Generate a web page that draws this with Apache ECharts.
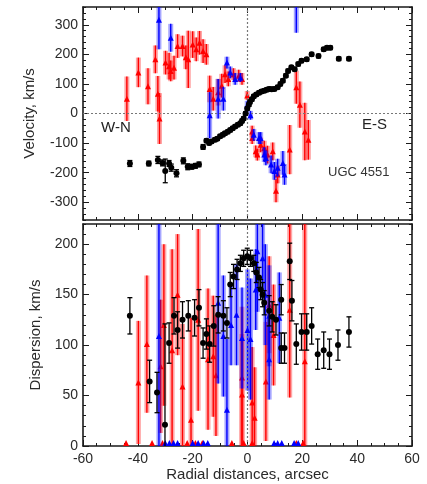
<!DOCTYPE html>
<html><head><meta charset="utf-8">
<script src="https://cdn.jsdelivr.net/npm/echarts@6/dist/echarts.min.js"></script>
<style>html,body{margin:0;padding:0;background:#fff}#c{width:427px;height:484px}</style>
</head><body><div id="c"></div>
<script>
// ---- tick labels ----
const X_TICKS = [-60, -40, -20, 0, 20, 40, 60];
const VEL_TICKS = [-300, -200, -100, 0, 100, 200, 300];
const DISP_TICKS = [0, 50, 100, 150, 200];

// ---- velocity panel: stars (black) ----
const velBlackX = [-42.9,-36,-32.7,-31,-30,-28.6,-27.8,-25.9,-23.4,-21.8,-20.3,-19,-17.7,-16.2,-15,-14,-13.1,-11.9,-11,-10,-9,-8.2,-7.2,-6.3,-5.4,-4.5,-3.5,-2.6,-2,-1.4,-0.7,-0.1,0.5,0.9,1.6,2.3,3.2,4.2,5.1,6.1,7,7.9,8.8,9.8,11,12,12.9,14,14.8,16,17.2,18.5,19.7,21.6,23.4,25.9,27.8,29,30.2,33.3,37];
const velBlackV = [-169,-169,-157,-167,-194,-169,-183,-202,-160,-180,-180,-177,-172,-113,-92,-100,-95,-89,-85,-77,-72,-67,-62,-56,-50,-44,-38,-33,-25,-17,0,17,30,39,48,58,64,70,74,77,80,83,82,83,89,100,111,128,144,156,150,167,178,183,200,194,217,222,222,185,185];
const velBlackErr = [10,8,12,10,40,10,12,12,10,10,8,8,8,8,6,6,6,6,6,6,6,6,6,6,6,6,6,6,6,6,6,6,6,6,6,6,6,6,6,6,6,6,6,6,6,6,6,6,6,6,6,6,6,6,6,6,6,6,6,6,6];

// ---- velocity panel: gas (red) ----
const velRedX = [-44,-39.8,-36.3,-33.6,-32.7,-32.1,-29.9,-28.6,-28,-26.8,-25.5,-23.7,-22.5,-21.6,-20,-18.7,-17.5,-16.2,-15,-13.8,-12.5,-10.7,-9.4,-8.2,-7,-5.1,-3.2,-2,-0.1,1.7,1.7,3,3.6,4.8,6.1,7.3,9.2,10.4,11,15.4,17.8,19.1,20.9,22.2];
const velRedV = [50,139,92,183,67,-17,172,160,144,155,228,228,190,183,233,217,239,211,200,83,50,72,94,133,117,133,128,117,61,-61,-83,-128,-139,-106,-117,-139,-128,-261,-206,-122,89,30,-61,-89];
const velRedErr = [75,50,61,47,60,86,40,45,35,40,40,35,40,97,45,40,40,40,35,45,40,45,40,30,25,20,20,20,15,20,20,20,20,25,25,30,30,39,30,83,56,78,97,67];

// ---- velocity panel: gas (blue) ----
const velBlueX = [-32.3,-28,-13.8,-10.7,-8.8,-7.5,-6.3,-4.5,-2.6,-0.1,1.1,2.3,4.2,4.8,6.1,6.7,8.6,9.8,11,12.9,13.5,17.8];
const velBlueV = [317,256,-6,50,50,172,139,117,122,28,-6,-72,-83,-83,-139,-150,-172,-194,-183,-167,-206,420];
const velBlueErr = [100,47,78,67,40,20,20,20,15,15,15,20,20,20,25,25,30,30,30,40,35,147];

// ---- dispersion panel: black ----
const dispBlackX = [-42.9,-35.7,-33,-30.1,-28.6,-26.8,-25.5,-23.7,-21.6,-19.3,-17.7,-16.2,-15,-13.8,-12.3,-10.7,-8.8,-7.5,-6.3,-5.1,-3.8,-2.6,-1.4,-0.1,1.1,2.3,3.2,4.2,4.8,5.5,6.1,7.9,9,10.4,12.3,12.3,13.5,15.4,16.2,17.8,19.7,21.6,23.4,25.6,27.8,29.9,33,37];
const dispBlackV = [129,64,53,21,102,129,115,125,129,127,137,102,111,101,119,130,129,122,160,168,175,181,186,188,186,181,172,167,155,150,142,134,128,125,145,97,97,183,144,101,113,113,119,91,95,91,100,113];
const dispBlackErr = [18,21,20,100,20,18,18,18,15,18,18,15,15,18,20,18,15,15,12,12,10,8,8,8,8,8,10,10,10,12,12,15,15,15,15,15,15,18,20,20,18,18,18,15,18,15,15,15];

// ---- dispersion panel: red ----
const dispRedX = [-44.3,-39.8,-36.7,-34.8,-31.7,-31,-30.5,-27.5,-25.5,-23.7,-22,-20.6,-19,-18,-16.5,-14.4,-12.5,-11.5,-5.7,-2,-2,-1.4,1.7,1.7,2.6,6.7,7.9,9.5,15.4,17.8,20.3,20.9];
const dispRedV = [3,63,101,3,79,3,120,95,150,59,3,26,3,125,3,86,89,70,3,68,51,3,3,43,28,64,140,110,135,3,3,84];
const dispRedErr = [0,61,68,0,66,0,80,100,60,62,0,101,0,90,0,70,60,60,0,70,60,0,0,55,50,59,48,50,87,0,0,140];

// ---- dispersion panel: blue ----
const dispBlueX = [-32.3,-30,-28.5,-27,-25.5,-20,-18,-16,-14.5,-10.7,-8.8,-7.5,-6,-4,-2,0,1.1,3,3.6,5.5,6.5,7.9,7.9,9.7,11,11.6,12.5,17,18.5];
const dispBlueV = [109,3,3,3,3,3,3,3,3,142,109,36,120,130,107,115,106,155,193,186,150,129,86,3,3,127,3,3,3];
const dispBlueErr = [130,0,0,0,0,0,0,0,0,80,60,70,40,50,50,60,60,40,60,40,50,50,40,0,0,45,0,0,0];

const zip = (xs, ys, es) => xs.map((x, i) => [x, ys[i], es[i]]);

const FONT = 'Liberation Sans, Arial, sans-serif';
const TXT = '#2a2a2a';
const boxLine = { show: true, onZero: false, lineStyle: { color: '#1a1a1a', width: 1.6 } };
const tickStyle = { color: '#1a1a1a', width: 1 };

function xAxes(g, showLabels) {
  const base = { gridIndex: g, type: 'value', min: -60, max: 60, splitLine: { show: false } };
  return [
    Object.assign({}, base, { position: 'bottom', axisLine: boxLine,
      axisTick: { inside: true, length: 6, customValues: X_TICKS, lineStyle: tickStyle },
      axisLabel: showLabels ? { show: true, customValues: X_TICKS, fontFamily: FONT, fontSize: 14, color: TXT, margin: 6 } : { show: false },
      name: showLabels ? 'Radial distances, arcsec' : '', nameLocation: 'middle', nameGap: 20,
      nameTextStyle: { fontFamily: FONT, fontSize: 15, color: TXT } }),
    Object.assign({}, base, { position: 'bottom', interval: 5, axisLine: { show: false, onZero: false },
      axisTick: { inside: true, length: 3, lineStyle: tickStyle }, axisLabel: { show: false } }),
    Object.assign({}, base, { position: 'top', axisLine: boxLine,
      axisTick: { inside: true, length: 6, customValues: X_TICKS, lineStyle: tickStyle }, axisLabel: { show: false } }),
    Object.assign({}, base, { position: 'top', interval: 5, axisLine: { show: false, onZero: false },
      axisTick: { inside: true, length: 3, lineStyle: tickStyle }, axisLabel: { show: false } })
  ];
}
function yAxes(g, min, max, ticks, minorInt, name, nameGap) {
  const base = { gridIndex: g, type: 'value', min: min, max: max, splitLine: { show: false } };
  return [
    Object.assign({}, base, { position: 'left', axisLine: boxLine,
      axisTick: { inside: true, length: 6, customValues: ticks, lineStyle: tickStyle },
      axisLabel: { show: true, customValues: ticks, fontFamily: FONT, fontSize: 14, color: TXT, margin: 5 },
      name: name, nameLocation: 'middle', nameGap: nameGap,
      nameTextStyle: { fontFamily: FONT, fontSize: 15, color: TXT } }),
    Object.assign({}, base, { position: 'left', interval: minorInt, axisLine: { show: false, onZero: false },
      axisTick: { inside: true, length: 3, lineStyle: tickStyle }, axisLabel: { show: false } }),
    Object.assign({}, base, { position: 'right', axisLine: boxLine,
      axisTick: { inside: true, length: 6, customValues: ticks, lineStyle: tickStyle }, axisLabel: { show: false } }),
    Object.assign({}, base, { position: 'right', interval: minorInt, axisLine: { show: false, onZero: false },
      axisTick: { inside: true, length: 3, lineStyle: tickStyle }, axisLabel: { show: false } })
  ];
}

function errSeries(xi, yi, data, color, fill, capped, z) {
  return {
    type: 'custom', xAxisIndex: xi, yAxisIndex: yi, clip: true, silent: true, z: z,
    encode: { x: 0, y: 1 }, data: data,
    renderItem: function (params, api) {
      const x = api.value(0), y = api.value(1), e = api.value(2);
      if (!e) return { type: 'group', children: [] };
      const p1 = api.coord([x, y + e]);
      const p2 = api.coord([x, y - e]);
      const ch = [];
      if (fill) {
        ch.push({ type: 'rect', shape: { x: p1[0] - 2.5, y: p1[1], width: 5, height: p2[1] - p1[1] },
          style: { fill: fill } });
      }
      ch.push({ type: 'line', shape: { x1: p1[0], y1: p1[1], x2: p2[0], y2: p2[1] },
        style: { stroke: color, lineWidth: capped ? 1.3 : 1.4 } });
      if (capped) {
        ch.push({ type: 'line', shape: { x1: p1[0] - 2.5, y1: p1[1], x2: p1[0] + 2.5, y2: p1[1] }, style: { stroke: color, lineWidth: 1.3 } });
        ch.push({ type: 'line', shape: { x1: p2[0] - 2.5, y1: p2[1], x2: p2[0] + 2.5, y2: p2[1] }, style: { stroke: color, lineWidth: 1.3 } });
      }
      return { type: 'group', children: ch };
    }
  };
}
function ptSeries(xi, yi, data, color, symbol, size, z) {
  return { type: 'scatter', xAxisIndex: xi, yAxisIndex: yi, clip: true, silent: true, z: z,
    data: data.map(d => [d[0], d[1]]), symbol: symbol, symbolSize: size,
    itemStyle: { color: color, opacity: 1 } };
}
function guideSeries(xi, yi, lines) {
  return { type: 'scatter', xAxisIndex: xi, yAxisIndex: yi, data: [], silent: true, z: 1,
    markLine: { silent: true, symbol: 'none', animation: false, label: { show: false },
      lineStyle: { color: '#777', type: [2, 2], width: 1.2 }, data: lines } };
}

const vBlack = zip(velBlackX, velBlackV, velBlackErr);
const vRed = zip(velRedX, velRedV, velRedErr);
const vBlue = zip(velBlueX, velBlueV, velBlueErr);
const dBlack = zip(dispBlackX, dispBlackV, dispBlackErr);
const dRed = zip(dispRedX, dispRedV, dispRedErr);
const dBlue = zip(dispBlueX, dispBlueV, dispBlueErr);

const RED = '#ff0000', BLUE = '#0000ff', BLACK = '#000000';
const RED_F = 'rgba(255,0,0,0.35)', BLUE_F = 'rgba(0,0,255,0.35)';

const option = {
  animation: false,
  backgroundColor: '#ffffff',
  grid: [
    { left: 83, top: 7, width: 329, height: 213 },
    { left: 83, top: 224, width: 329, height: 222 }
  ],
  xAxis: xAxes(0, false).concat(xAxes(1, true)),
  yAxis: yAxes(0, -360, 360, VEL_TICKS, 20, 'Velocity, km/s', 46)
    .concat(yAxes(1, 0, 220, DISP_TICKS, 10, 'Dispersion, km/s', 39)),
  series: [
    guideSeries(0, 0, [{ yAxis: 0 }, { xAxis: 0 }]),
    guideSeries(4, 4, [{ xAxis: 0 }]),
    errSeries(0, 0, vRed, RED, RED_F, false, 2),
    ptSeries(0, 0, vRed, RED, 'triangle', 6, 3),
    errSeries(0, 0, vBlue, BLUE, BLUE_F, false, 4),
    ptSeries(0, 0, vBlue, BLUE, 'triangle', 6, 5),
    errSeries(0, 0, vBlack, BLACK, null, true, 6),
    ptSeries(0, 0, vBlack, BLACK, 'circle', 6, 7),
    errSeries(4, 4, dRed, RED, RED_F, false, 2),
    ptSeries(4, 4, dRed, RED, 'triangle', 6, 3),
    errSeries(4, 4, dBlue, BLUE, BLUE_F, false, 4),
    ptSeries(4, 4, dBlue, BLUE, 'triangle', 6, 5),
    errSeries(4, 4, dBlack, BLACK, null, true, 6),
    ptSeries(4, 4, dBlack, BLACK, 'circle', 6, 7)
  ],
  graphic: [
    { type: 'text', left: 101, top: 120, z: 20, style: { text: 'W-N', font: '15px ' + FONT, fill: '#222' } },
    { type: 'text', left: 362, top: 117, z: 20, style: { text: 'E-S', font: '15px ' + FONT, fill: '#222' } },
    { type: 'text', left: 328, top: 166, z: 20, style: { text: 'UGC 4551', font: '13px ' + FONT, fill: '#333' } }
  ]
};

const chart = echarts.init(document.getElementById('c'), null, { renderer: 'canvas' });
chart.setOption(option);
</script>
</body></html>
